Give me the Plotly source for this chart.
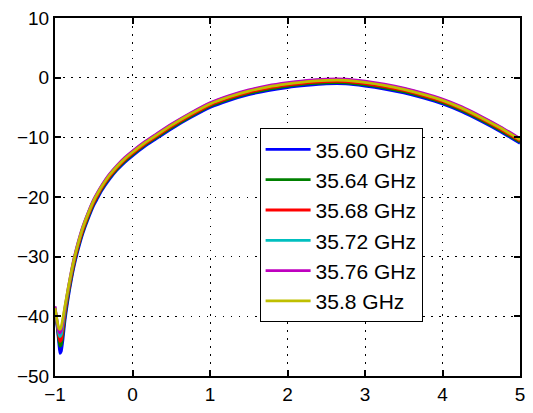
import plotly.graph_objects as go

x_vals = [-1, -0.97, -0.95, -0.935, -0.92, -0.9, -0.87, -0.83, -0.79, -0.75, -0.7, -0.64, -0.57,
          -0.5, -0.45, -0.4, -0.3, -0.2, -0.1, 0, 0.15, 0.3, 0.5, 0.75, 1, 1.25, 1.5, 1.75, 2,
          2.25, 2.5, 2.75, 3, 3.25, 3.5, 3.75, 4, 4.25, 4.5, 4.75, 5]

s_3560 = [-38.8, -42.0, -44.6, -46.2, -45.9, -44.2, -40.6, -37.0, -34.0, -31.4, -28.8, -26.1, -23.6,
          -21.4, -20.2, -19.0, -17.1, -15.5, -14.2, -13.1, -11.6, -10.3, -8.6, -6.7, -5.0, -3.8, -2.85, -2.15, -1.65,
          -1.3, -1.05, -1.05, -1.4, -1.9, -2.55, -3.4, -4.4, -5.7, -7.3, -9.05, -11.0]
s_3564 = [-38.7, -41.7, -44.0, -45.0, -44.8, -43.2, -39.9, -36.5, -33.6, -31.0, -28.4, -25.8, -23.3,
          -21.1, -19.9, -18.75, -16.85, -15.3, -14.0, -12.9, -11.4, -10.1, -8.4, -6.5, -4.8, -3.6, -2.65, -1.95, -1.45,
          -1.05, -0.85, -0.85, -1.2, -1.7, -2.35, -3.2, -4.2, -5.5, -7.1, -8.85, -10.8]
s_3568 = [-38.6, -41.4, -43.4, -44.2, -44.0, -42.3, -39.3, -36.0, -33.2, -30.7, -28.1, -25.5, -23.0,
          -20.9, -19.7, -18.55, -16.65, -15.1, -13.8, -12.7, -11.2, -9.9, -8.2, -6.3, -4.6, -3.4, -2.45, -1.75, -1.25,
          -0.85, -0.65, -0.65, -1.0, -1.5, -2.15, -3.0, -4.0, -5.3, -6.9, -8.65, -10.6]
s_3572 = [-38.5, -41.3, -42.9, -43.4, -43.1, -41.5, -38.7, -35.5, -32.7, -30.2, -27.6, -25.0, -22.6,
          -20.5, -19.3, -18.2, -16.3, -14.8, -13.5, -12.4, -10.9, -9.6, -7.9, -6.0, -4.3, -3.1, -2.15, -1.45, -0.95,
          -0.55, -0.35, -0.35, -0.7, -1.2, -1.85, -2.7, -3.7, -5.0, -6.6, -8.35, -10.3]
s_3576 = [-38.3, -41.1, -42.5, -42.8, -42.4, -40.9, -38.4, -35.3, -32.5, -30.0, -27.5, -24.9, -22.5,
          -20.4, -19.2, -18.1, -16.2, -14.7, -13.4, -12.3, -10.8, -9.5, -7.8, -5.9, -4.2, -3.0, -2.05, -1.35, -0.85,
          -0.45, -0.25, -0.25, -0.6, -1.1, -1.75, -2.6, -3.6, -4.9, -6.5, -8.25, -10.2]
s_3580 = [-38.6, -40.9, -42.0, -42.2, -41.8, -40.5, -38.2, -35.3, -32.6, -30.2, -27.7, -25.1, -22.7,
          -20.6, -19.4, -18.3, -16.4, -14.9, -13.6, -12.5, -11.0, -9.7, -8.0, -6.1, -4.4, -3.2, -2.25, -1.55, -1.05,
          -0.65, -0.45, -0.45, -0.8, -1.3, -1.95, -2.8, -3.8, -5.1, -6.7, -8.45, -10.4]

series_names = ["35.60 GHz", "35.64 GHz", "35.68 GHz", "35.72 GHz", "35.76 GHz", "35.8 GHz"]
series_vals = [s_3560, s_3564, s_3568, s_3572, s_3576, s_3580]
colors = ["#0000ff", "#008000", "#ff0000", "#00bfbf", "#bf00bf", "#bfbf00"]

x_ticks = [-1, 0, 1, 2, 3, 4, 5]
y_ticks = [-50, -40, -30, -20, -10, 0, 10]

fig = go.Figure()
for name, vals, col in zip(series_names, series_vals, colors):
    fig.add_trace(go.Scatter(x=x_vals, y=vals, mode="lines", name=name, legendgroup=name,
                             line=dict(color=col, width=2.8, shape="spline", smoothing=0.6)))

axis_common = dict(showline=True, linecolor="black", linewidth=2, mirror="ticks",
                   ticks="inside", ticklen=6, tickwidth=2, tickcolor="black",
                   showgrid=True, gridcolor="black", gridwidth=1.3, griddash="1.5px,6.5px",
                   zeroline=False, tickfont=dict(family="Liberation Sans, Arial", size=19, color="black"))

fig.update_xaxes(range=[-1, 5], tickvals=x_ticks, **axis_common)
fig.update_yaxes(range=[-50, 10], tickvals=y_ticks, **axis_common)

fig.update_layout(
    width=533, height=413,
    margin=dict(l=55, r=8, t=15, b=29),
    paper_bgcolor="white", plot_bgcolor="white",
    showlegend=True,
    legend=dict(x=0.44, y=0.692, xanchor="left", yanchor="top",
                bgcolor="white", bordercolor="black", borderwidth=1,
                font=dict(family="Liberation Sans, Arial", size=21, color="black"),
                tracegroupgap=0, itemwidth=45),
)

fig.write_html("out.html")
